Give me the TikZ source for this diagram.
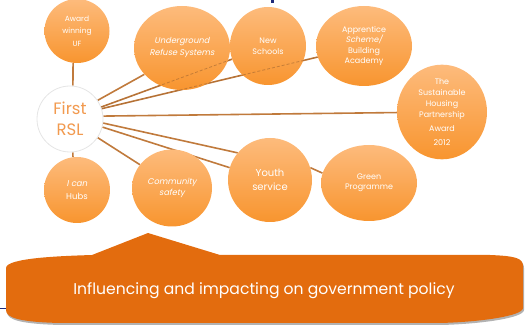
\documentclass[tikz,border=0pt]{standalone}
\usepackage{fontspec}
\setmainfont{Poppins}
\newfontfamily\slfont[FakeSlant=0.2]{Poppins}
\usetikzlibrary{backgrounds,shapes.geometric}
\definecolor{linebrown}{HTML}{C07A3C}
\definecolor{ctop}{HTML}{FDBB7C}
\definecolor{cbot}{HTML}{F8952F}
\definecolor{bannercol}{HTML}{E36C0E}
\definecolor{rsltext}{HTML}{F29A4F}
\definecolor{navycol}{HTML}{1F2A7A}
\begin{document}
\begin{tikzpicture}[x=1pt,y=-1pt,
  bubble/.style={ellipse, inner sep=0pt, top color=ctop, bottom color=cbot, draw=none,
    text=white, font=\fontsize{8}{10.5}\selectfont, align=center},
  link/.style={draw=linebrown, line width=1.6pt},
  thru/.style={draw=linebrown!80!black, line width=0.8pt, dash pattern=on 3pt off 2pt, opacity=0.55},
  bannertext/.style={text=white, font=\fontsize{15.6}{18}\selectfont}]
\useasboundingbox (0,0) rectangle (528,331);

% slide fragments
\fill[navycol] (271,0) rectangle (273.5,3.5);
\draw[navycol, line width=1pt] (0,309) -- (8,309);

% banner with shadow
\fill[gray!60, shift={(1,2)}] (6,268) .. controls (6,258) and (60,256) .. (92,255) -- (148,233) -- (220,255) -- (490,255)
  .. controls (515,256) and (523,258) .. (523,266) -- (523,308) .. controls (523,316) and (480,322) .. (440,323)
  -- (60,323) .. controls (20,322) and (6,318) .. (6,310) -- cycle;
\fill[bannercol] (6,268) .. controls (6,258) and (60,256) .. (92,255) -- (148,233) -- (220,255) -- (490,255)
  .. controls (515,256) and (523,258) .. (523,266) -- (523,308) .. controls (523,316) and (480,322) .. (440,323)
  -- (60,323) .. controls (20,322) and (6,318) .. (6,310) -- cycle;
\node[bannertext] (bantext) at (264,291) {Influencing and impacting on government policy};

% centre
\node[circle, minimum size=66pt, inner sep=0pt, fill=white, draw=gray!20, line width=0.8pt,
  text=rsltext, font=\fontsize{16.5}{21}\selectfont, align=center] (rsl) at (70,119) {First\\RSL};

% bubbles
\node[bubble, minimum width=65pt, minimum height=64pt, font=\fontsize{7.5}{12.5}\selectfont] (award) at (77,31) {Award\\winning\\UF};
\node[bubble, minimum width=96pt, minimum height=84pt, font=\fontsize{8.3}{12}\selectfont\slfont] (under) at (182,48) {Underground\\Refuse Systems};
\node[bubble, minimum width=76pt, minimum height=78pt] (new) at (268,46) {New\\Schools};
\node[bubble, minimum width=96pt, minimum height=80pt] (appr) at (364,46) {Apprentice\\{\slfont Scheme/}\\Building\\Academy};
\node[bubble, minimum width=90pt, minimum height=88pt, font=\fontsize{8}{11}\selectfont] (sust) at (442,112) {The\\Sustainable\\Housing\\Partnership\\[3pt]Award\\[3pt]2012};
\node[bubble, minimum width=66pt, minimum height=66pt, font=\fontsize{8.5}{13}\selectfont] (ican) at (77,190) {{\slfont I can}\\Hubs};
\node[bubble, minimum width=80pt, minimum height=77pt, font=\fontsize{8.3}{11}\selectfont\slfont] (comm) at (172,188) {Community\\safety};
\node[bubble, minimum width=84pt, minimum height=84pt, font=\fontsize{10}{14}\selectfont] (youth) at (270,180) {Youth\\service};
\node[bubble, minimum width=96pt, minimum height=76pt] (green) at (369,183) {Green\\Programme};

% connectors behind
\begin{scope}[on background layer]
\draw[link] (award.263) -- (rsl.85);
\draw[link] (rsl.275) -- (ican.97);
\draw[link] (rsl.34) -- (under.215);
\draw[link] (rsl.21) -- (new);
\draw[link] (rsl.18) -- (appr);
\draw[link] (rsl.5) -- (sust);
\draw[link] (rsl.-7) -- (youth.140);
\draw[link] (rsl.-14) -- (youth.163);
\draw[link] (rsl.-34) -- (comm.144);
\draw[link] (youth.17) -- (green.168);
\end{scope}

% faint lines seen through bubbles
\draw[thru] (rsl.21) -- (new);
\draw[thru] (rsl.18) -- (appr);
\end{tikzpicture}
\end{document}
